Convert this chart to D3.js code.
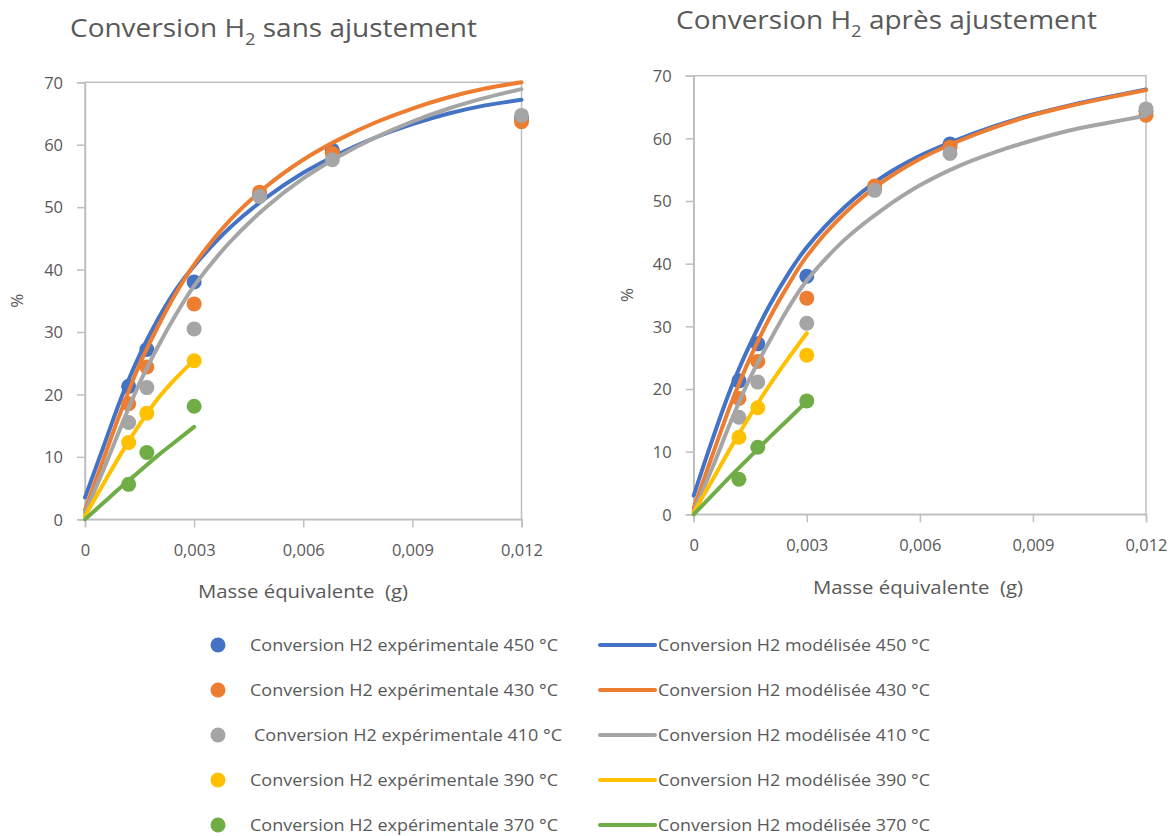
<!DOCTYPE html>
<html><head><meta charset="utf-8">
<script src="https://cdn.jsdelivr.net/npm/d3@7"></script>
<style>body{margin:0;background:#fff}svg{display:block}text{font-family:"Open Sans",sans-serif;fill:#595959}</style>
</head><body><svg id="c" width="1171" height="836"></svg>
<script>
// ---------- data ----------
const temps = ["450", "430", "410", "390", "370"];
const colors = ["#4472C4", "#ED7D31", "#A5A5A5", "#FFC000", "#70AD47"];
const xTicks = [0, 0.003, 0.006, 0.009, 0.012];
const yTicks = [0, 10, 20, 30, 40, 50, 60, 70];

// experimental points (same in both charts)
const expX = [0.0012, 0.0017, 0.003, 0.0048, 0.0068, 0.012];
const exp450 = [21.3, 27.2, 38.0, 52.0, 59.1, 64.3];
const exp430 = [18.5, 24.4, 34.5, 52.4, 58.6, 63.7];
const exp410 = [15.5, 21.1, 30.5, 51.7, 57.6, 64.7];
const exp390 = [12.3, 17.0, 25.4];
const exp370 = [5.6, 10.7, 18.1];

// model curves
const modX = [0, 0.0005, 0.001, 0.0015, 0.002, 0.0025, 0.003, 0.004, 0.005, 0.006, 0.007, 0.008, 0.009, 0.010, 0.011, 0.012];
// sans ajustement
const modL450 = [3.5, 11.5, 19.5, 26.3, 32.0, 36.8, 40.6, 46.8, 51.6, 55.5, 58.6, 61.2, 63.3, 65.0, 66.3, 67.2];
const modL430 = [1.5, 9.5, 17.5, 24.8, 30.8, 36.2, 40.8, 48.0, 53.4, 57.6, 60.9, 63.6, 65.8, 67.6, 69.0, 70.0];
const modL410 = [1.0, 7.8, 15.0, 21.8, 27.6, 32.8, 37.4, 44.5, 50.1, 54.6, 58.2, 61.2, 63.7, 65.8, 67.5, 68.9];
const modL390 = [0.5, 5.6, 10.6, 15.2, 19.3, 22.6, 25.5];
const modL370 = [0.0, 2.6, 5.2, 7.7, 10.2, 12.5, 14.8];
// après ajustement
const modR450 = [3.0, 12.0, 20.3, 27.2, 33.2, 38.3, 42.6, 49.0, 53.8, 57.2, 59.8, 62.0, 63.8, 65.3, 66.6, 67.8];
const modR430 = [1.0, 9.5, 17.8, 25.0, 31.2, 36.5, 41.2, 48.0, 53.0, 56.7, 59.5, 61.8, 63.7, 65.2, 66.5, 67.7];
const modR410 = [0.5, 7.5, 15.0, 21.8, 27.5, 32.8, 37.3, 43.8, 48.6, 52.5, 55.5, 57.8, 59.7, 61.3, 62.5, 63.6];
const modR390 = [0.3, 5.5, 10.8, 15.8, 20.5, 24.8, 28.9];
const modR370 = [0.0, 3.1, 6.2, 9.2, 12.2, 15.1, 18.0];

const titles = ["sans ajustement", "après ajustement"];
const xTitle = "Masse équivalente  (g)";
const yTitle = "%";

// ---------- drawing ----------
const svg = d3.select("#c");
const loc = d3.formatLocale({decimal: ",", thousands: " ", grouping: [3], currency: ["", "€"]});
const fmt = d => d === 0 ? "0" : loc.format(".3f")(d);

const charts = [
  {x: [85, 521.5], y: [519.3, 82.3], title: titles[0], tx: 70, ty: 37, tw: 407,
   exp: [exp450, exp430, exp410, exp390, exp370], mod: [modL450, modL430, modL410, modL390, modL370],
   yLab: 18, xLabY: 598, xLabX: 303},
  {x: [693.7, 1146], y: [514.3, 75.7], title: titles[1], tx: 676, ty: 29, tw: 421,
   exp: [exp450, exp430, exp410, exp390, exp370], mod: [modR450, modR430, modR410, modR390, modR370],
   yLab: 628, xLabY: 594, xLabX: 918}
];

charts.forEach(c => {
  const x = d3.scaleLinear().domain([0, 0.012]).range(c.x);
  const y = d3.scaleLinear().domain([0, 70]).range(c.y);
  const g = svg.append("g");
  // plot border (top + right)
  g.append("rect").attr("x", c.x[0]).attr("y", c.y[1]).attr("width", c.x[1] - c.x[0]).attr("height", c.y[0] - c.y[1])
    .attr("fill", "none").attr("stroke", "#BFBFBF").attr("stroke-width", 1.5);
  // axes
  const ax = g.append("g").attr("transform", `translate(0,${c.y[0]})`)
    .call(d3.axisBottom(x).tickValues(xTicks).tickFormat(fmt).tickSize(8).tickPadding(17));
  const ay = g.append("g").attr("transform", `translate(${c.x[0]},0)`)
    .call(d3.axisLeft(y).tickValues(yTicks).tickSize(8).tickPadding(14));
  [ax, ay].forEach(a => {
    a.select(".domain").attr("stroke", "#BFBFBF").attr("stroke-width", 1.5);
    a.selectAll(".tick line").attr("stroke", "#BFBFBF").attr("stroke-width", 1.5);
    a.selectAll(".tick text").style("font-size", "16.5px").attr("fill", "#595959").style("font-family", "'Open Sans',sans-serif");
  });
  ay.selectAll(".tick text").attr("dy", "0.35em");
  // axis titles
  g.append("text").attr("x", c.xLabX).attr("y", c.xLabY).attr("text-anchor", "middle")
    .style("font-size", "18px").style("white-space", "pre")
    .attr("textLength", 210).attr("lengthAdjust", "spacingAndGlyphs").text(xTitle);
  g.append("text").attr("transform", `translate(${c.yLab + 5},${(c.y[0] + c.y[1]) / 2}) rotate(-90)`)
    .attr("text-anchor", "middle").style("font-size", "17px").text(yTitle);
  // title
  const t = g.append("text").attr("x", c.tx).attr("y", c.ty).style("font-size", "26px")
    .attr("textLength", c.tw).attr("lengthAdjust", "spacingAndGlyphs");
  t.append("tspan").text("Conversion H");
  t.append("tspan").attr("dy", 8).style("font-size", "17px").text("2");
  t.append("tspan").attr("dy", -8).text(" " + c.title);
  // series, interleaved: exp, model
  const line = d3.line().x(d => x(d[0])).y(d => y(d[1])).curve(d3.curveCatmullRom.alpha(0.5));
  temps.forEach((tp, i) => {
    const pts = c.exp[i].map((v, k) => [expX[k], v]);
    g.append("g").selectAll("circle").data(pts).join("circle")
      .attr("cx", d => x(d[0])).attr("cy", d => y(d[1])).attr("r", 7.5).attr("fill", colors[i]);
    const mp = c.mod[i].map((v, k) => [modX[k], v]);
    g.append("path").datum(mp).attr("d", line).attr("fill", "none").attr("stroke", colors[i])
      .attr("stroke-width", 4).attr("stroke-linecap", "round");
  });
});

// legend
const lg = svg.append("g");
temps.forEach((tp, i) => {
  const yy = 645 + i * 45;
  lg.append("circle").attr("cx", 218).attr("cy", yy).attr("r", 7.5).attr("fill", colors[i]);
  lg.append("text").attr("x", i === 2 ? 254 : 250).attr("y", yy + 6).style("font-size", "17px")
    .attr("textLength", 308).attr("lengthAdjust", "spacingAndGlyphs")
    .text("Conversion H2 expérimentale " + tp + " °C");
  lg.append("line").attr("x1", 600).attr("x2", 655).attr("y1", yy).attr("y2", yy)
    .attr("stroke", colors[i]).attr("stroke-width", 4).attr("stroke-linecap", "round");
  lg.append("text").attr("x", 658).attr("y", yy + 6).style("font-size", "17px")
    .attr("textLength", 272).attr("lengthAdjust", "spacingAndGlyphs")
    .text("Conversion H2 modélisée " + tp + " °C");
});
</script></body></html>
